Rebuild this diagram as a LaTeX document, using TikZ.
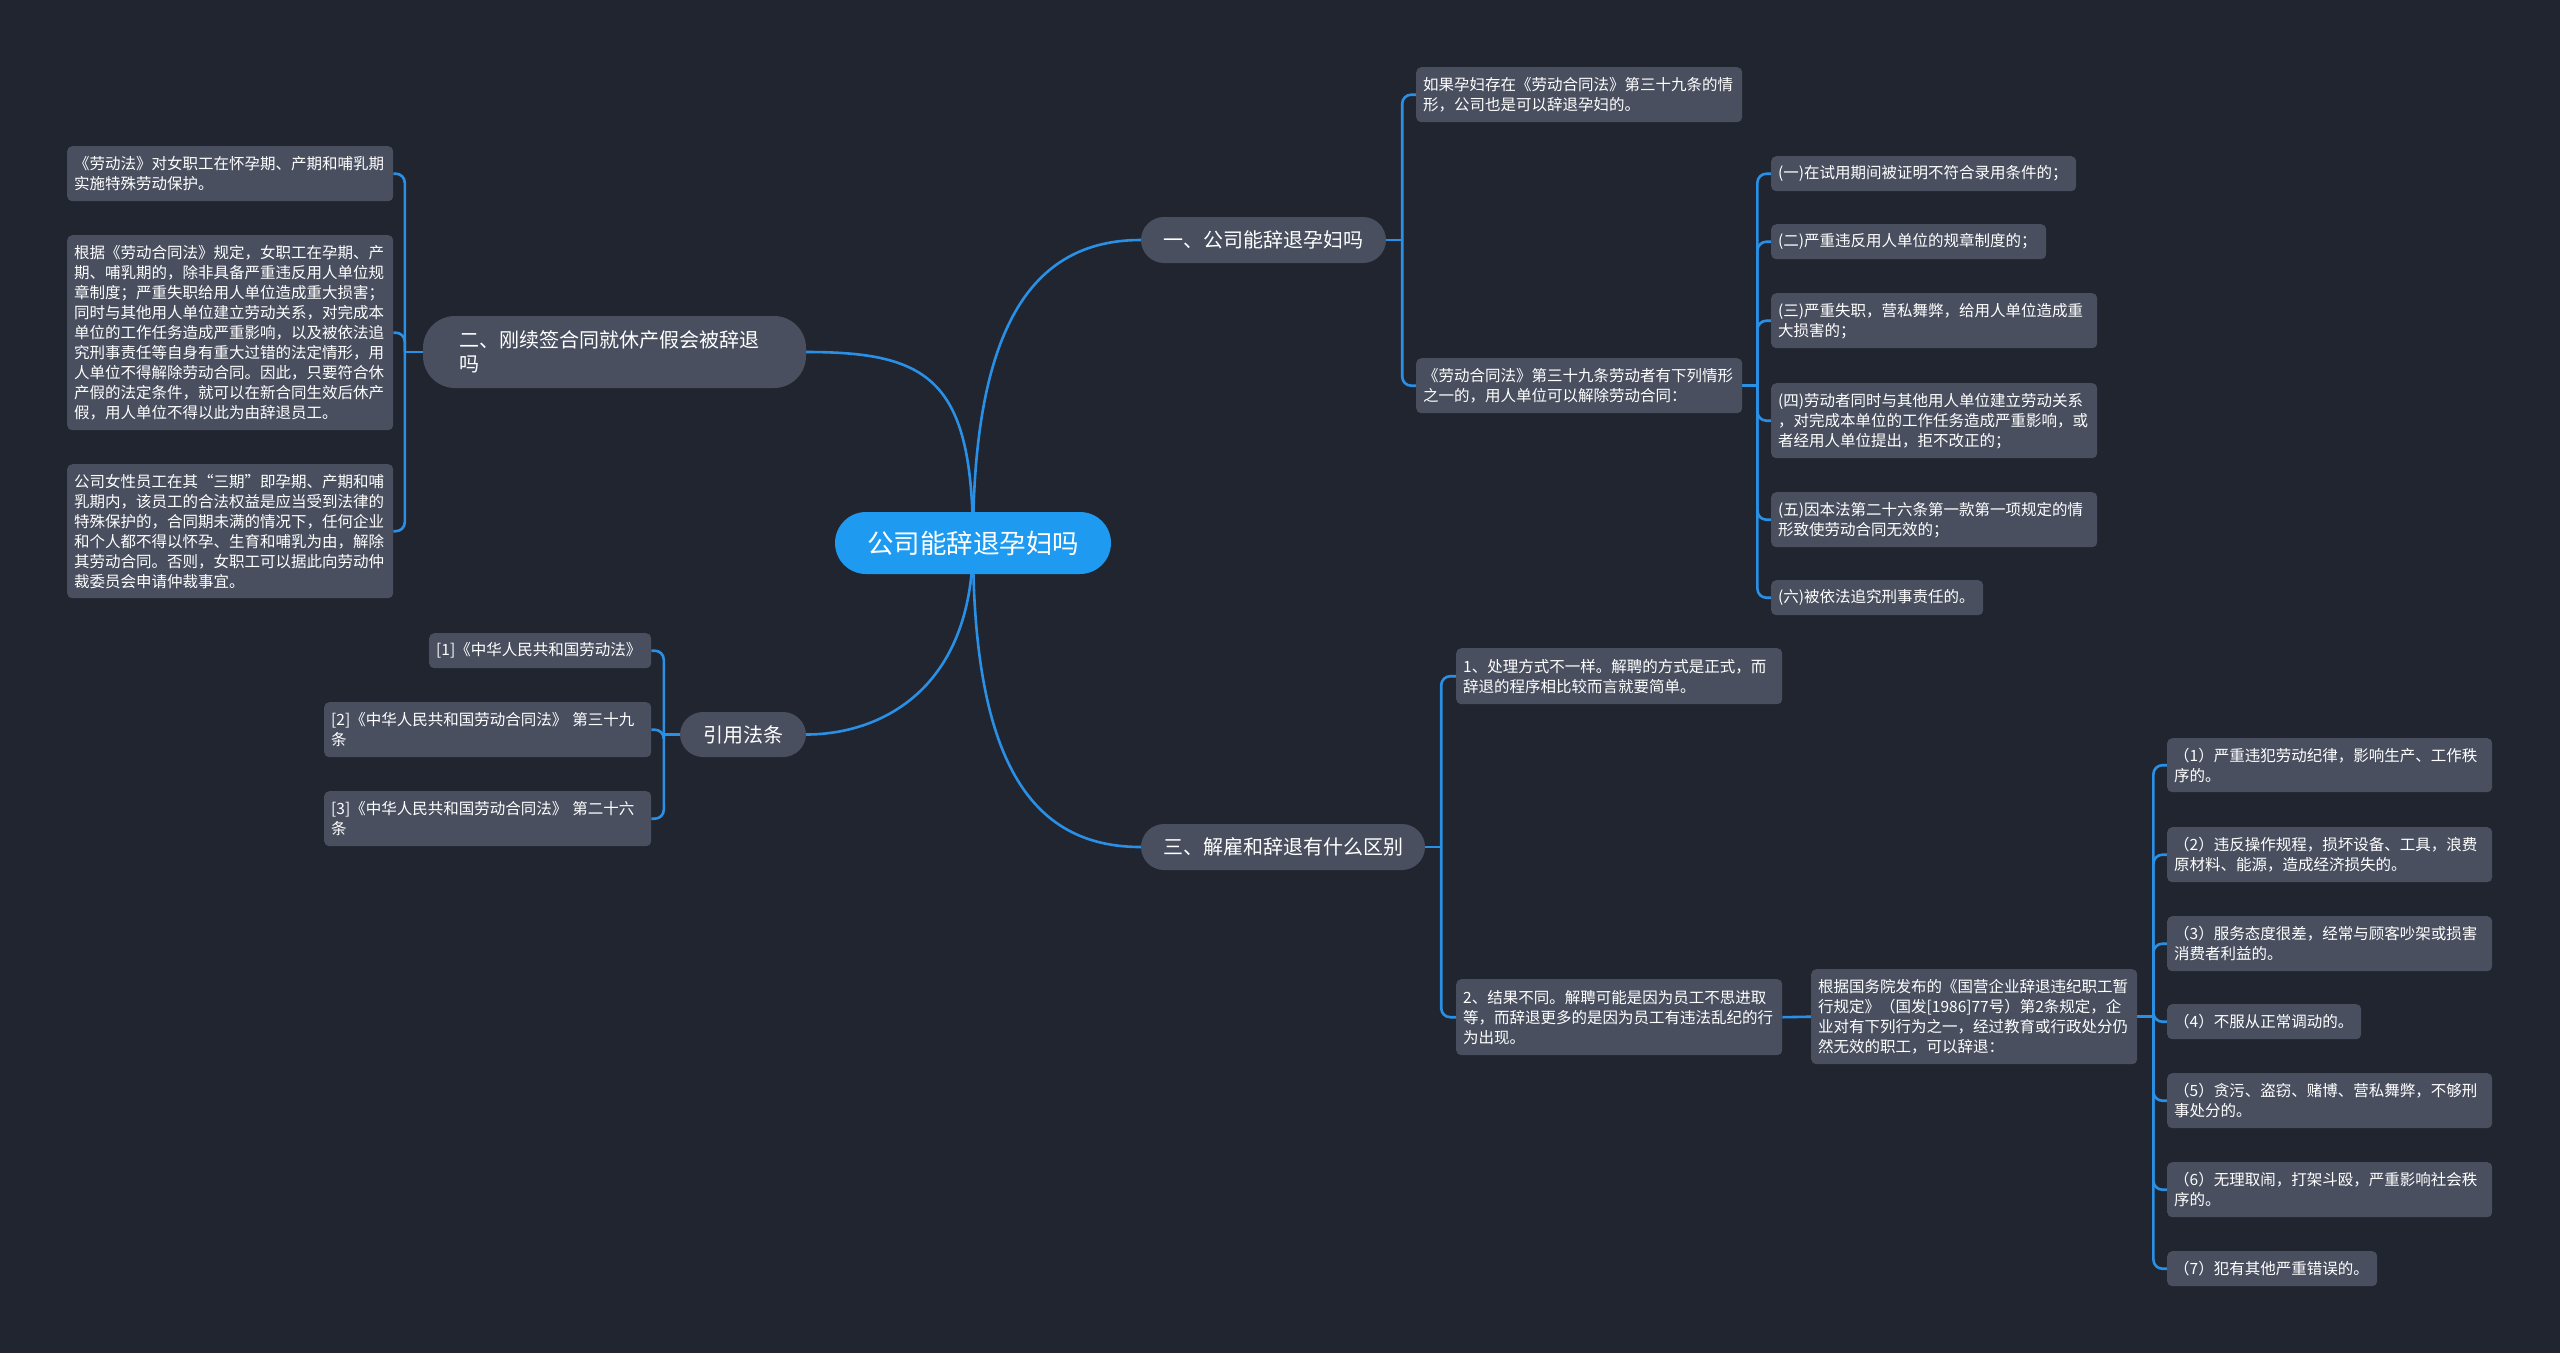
\documentclass[tikz,border=0pt]{standalone}
\usepackage{fontspec}
\newfontfamily\cjk{Noto Sans CJK SC}
\definecolor{bgc}{RGB}{33,37,48}
\definecolor{nodegray}{RGB}{73,79,95}
\definecolor{linkblue}{RGB}{41,144,230}
\definecolor{rootblue}{RGB}{30,155,240}
\pgfdeclarelayer{bglayer}
\pgfsetlayers{bglayer,main}
\tikzset{
  leaf/.style={rectangle, rounded corners=5pt, fill=nodegray, text=white,
    font=\cjk\fontsize{15.5}{20}\selectfont, inner xsep=7pt, inner ysep=0pt, align=left},
  branch/.style={rectangle, rounded corners=23pt, fill=nodegray, text=white,
    font=\cjk\fontsize{20}{24}\selectfont, inner sep=0pt},
  rootnode/.style={rectangle, rounded corners=31pt, fill=rootblue, text=white,
    font=\cjk\fontsize{26.5}{30}\selectfont, inner sep=0pt},
  conn/.style={draw=linkblue, line width=2.6pt},
  spine/.style={conn, rounded corners=9pt},
}
\newcommand{\leafbox}[6]{\node[leaf, text width=#4pt, minimum height=#5pt, anchor=north west] (#1) at (#2,#3) {#6};}
\begin{document}
\begin{tikzpicture}[x=1pt,y=-1pt]
\useasboundingbox (0,0) rectangle (2560,1353);
% root and branches
\node[rootnode, minimum width=276pt, minimum height=62pt] (root) at (973,543) {公司能辞退孕妇吗};
\node[branch, minimum width=245pt, minimum height=46pt] (b1) at (1263.5,240) {一、公司能辞退孕妇吗};
\node[branch, rounded corners=32pt, text width=311pt, inner xsep=36pt, minimum height=72pt, align=left] (b2) at (614.5,352) {二、刚续签合同就休产假会被辞退\\吗};
\node[branch, minimum width=284pt, minimum height=46pt] (b3) at (1283,847) {三、解雇和辞退有什么区别};
\node[branch, minimum width=126pt, minimum height=45pt] (b4) at (743,734.5) {引用法条};
% branch 2 leaves
\leafbox{la}{67}{146}{312}{55}{《劳动法》对女职工在怀孕期、产期和哺乳期\\实施特殊劳动保护。}
\leafbox{lb}{67}{235}{312}{195}{根据《劳动合同法》规定，女职工在孕期、产\\期、哺乳期的，除非具备严重违反用人单位规\\章制度；严重失职给用人单位造成重大损害；\\同时与其他用人单位建立劳动关系，对完成本\\单位的工作任务造成严重影响，以及被依法追\\究刑事责任等自身有重大过错的法定情形，用\\人单位不得解除劳动合同。因此，只要符合休\\产假的法定条件，就可以在新合同生效后休产\\假，用人单位不得以此为由辞退员工。}
\leafbox{lc}{67}{464}{312}{134}{公司女性员工在其“三期”即孕期、产期和哺\\乳期内，该员工的合法权益是应当受到法律的\\特殊保护的，合同期未满的情况下，任何企业\\和个人都不得以怀孕、生育和哺乳为由，解除\\其劳动合同。否则，女职工可以据此向劳动仲\\裁委员会申请仲裁事宜。}
% branch 4 leaves
\leafbox{ra}{429}{633}{208}{35}{[1]《中华人民共和国劳动法》}
\leafbox{rb}{324}{702}{313}{55}{[2]《中华人民共和国劳动合同法》 第三十九\\条}
\leafbox{rc}{324}{791}{313}{55}{[3]《中华人民共和国劳动合同法》 第二十六\\条}
% branch 1 leaves
\leafbox{pa}{1416}{67}{312}{55}{如果孕妇存在《劳动合同法》第三十九条的情\\形，公司也是可以辞退孕妇的。}
\leafbox{pb}{1416}{358}{312}{55}{《劳动合同法》第三十九条劳动者有下列情形\\之一的，用人单位可以解除劳动合同：}
\leafbox{g1}{1771}{156}{291}{35}{(一)在试用期间被证明不符合录用条件的；}
\leafbox{g2}{1771}{224}{261}{35}{(二)严重违反用人单位的规章制度的；}
\leafbox{g3}{1771}{293}{312}{55}{(三)严重失职，营私舞弊，给用人单位造成重\\大损害的；}
\leafbox{g4}{1771}{383}{312}{75}{(四)劳动者同时与其他用人单位建立劳动关系\\，对完成本单位的工作任务造成严重影响，或\\者经用人单位提出，拒不改正的；}
\leafbox{g5}{1771}{492}{312}{55}{(五)因本法第二十六条第一款第一项规定的情\\形致使劳动合同无效的；}
\leafbox{g6}{1771}{580}{198}{35}{(六)被依法追究刑事责任的。}
% branch 3 leaves
\leafbox{qa}{1456}{648}{312}{56}{1、处理方式不一样。解聘的方式是正式，而\\辞退的程序相比较而言就要简单。}
\leafbox{qb}{1456}{979}{312}{76}{2、结果不同。解聘可能是因为员工不思进取\\等，而辞退更多的是因为员工有违法乱纪的行\\为出现。}
\leafbox{qc}{1811}{969}{312}{95}{根据国务院发布的《国营企业辞退违纪职工暂\\行规定》（国发[1986]77号）第2条规定，企\\业对有下列行为之一，经过教育或行政处分仍\\然无效的职工，可以辞退：}
\leafbox{k1}{2167}{738}{311}{54}{（1）严重违犯劳动纪律，影响生产、工作秩\\序的。}
\leafbox{k2}{2167}{827}{311}{55}{（2）违反操作规程，损坏设备、工具，浪费\\原材料、能源，造成经济损失的。}
\leafbox{k3}{2167}{916}{311}{55}{（3）服务态度很差，经常与顾客吵架或损害\\消费者利益的。}
\leafbox{k4}{2167}{1004}{180}{35}{（4）不服从正常调动的。}
\leafbox{k5}{2167}{1073}{311}{55}{（5）贪污、盗窃、赌博、营私舞弊，不够刑\\事处分的。}
\leafbox{k6}{2167}{1162}{311}{55}{（6）无理取闹，打架斗殴，严重影响社会秩\\序的。}
\leafbox{k7}{2167}{1251}{196}{35}{（7）犯有其他严重错误的。}
% spine coordinates
\coordinate (s1) at ([xshift=16pt]b1.east);
\coordinate (s2) at ([xshift=-18pt]b2.west);
\coordinate (s3) at ([xshift=16pt]b3.east);
\coordinate (s4) at ([xshift=-16pt]b4.west);
\coordinate (s5) at ([xshift=15pt]pb.east);
\coordinate (s6) at ([xshift=16pt]qc.east);
\begin{pgfonlayer}{bglayer}
\fill[bgc] (0,0) rectangle (2560,1353);
% root curves
\draw[conn] (root.center) .. controls (973,330) and (1030,240) .. (b1.west);
\draw[conn] (root.center) .. controls (973,380) and (930,352) .. (b2.east);
\draw[conn] (root.center) .. controls (973,760) and (1030,847) .. (b3.west);
\draw[conn] (root.center) .. controls (973,690) and (880,734.5) .. (b4.east);
% branch 1
\draw[conn] (b1.east) -- (s1);
\draw[spine] (s1) |- (pa.west);
\draw[spine] (s1) |- (pb.west);
\draw[conn] (pb.east) -- (s5);
\foreach \n in {g1,g2,g3,g4,g5,g6} {\draw[spine] (s5) |- (\n.west);}
% branch 2
\draw[conn] (b2.west) -- (s2);
\foreach \n in {la,lb,lc} {\draw[spine] (s2) |- (\n.east);}
% branch 4
\draw[conn] (b4.west) -- (s4);
\foreach \n in {ra,rb,rc} {\draw[spine] (s4) |- (\n.east);}
% branch 3
\draw[conn] (b3.east) -- (s3);
\draw[spine] (s3) |- (qa.west);
\draw[spine] (s3) |- (qb.west);
\draw[conn] (qb.east) -- (qc.west);
\draw[conn] (qc.east) -- (s6);
\foreach \n in {k1,k2,k3,k4,k5,k6,k7} {\draw[spine] (s6) |- (\n.west);}
\end{pgfonlayer}
\end{tikzpicture}
\end{document}
